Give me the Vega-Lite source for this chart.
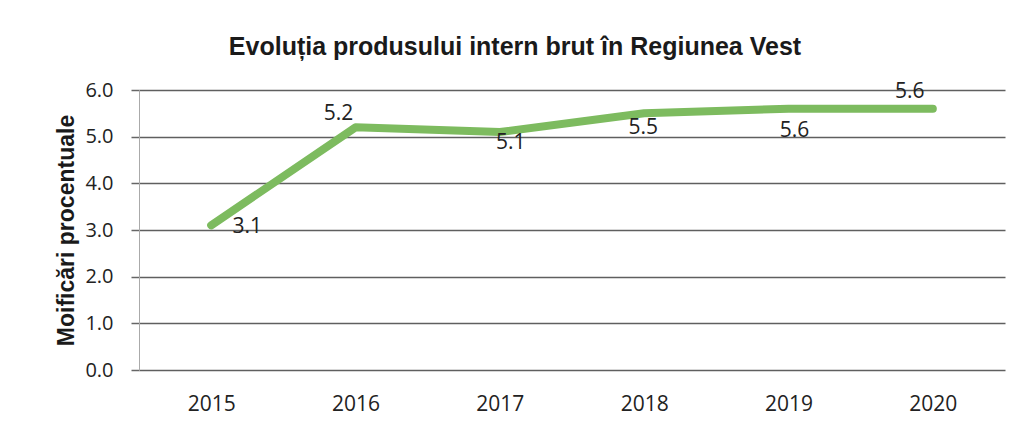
{
  "$schema": "https://vega.github.io/schema/vega-lite/v6.json",
  "width": 866,
  "height": 280,
  "autosize": {"type": "none"},
  "padding": {"left": 139, "top": 90, "right": 15, "bottom": 57},
  "background": "white",
  "title": {
    "text": "Evoluția produsului intern brut în Regiunea Vest",
    "font": "Liberation Sans",
    "fontSize": 25,
    "fontWeight": "bold",
    "color": "#1a1a1a",
    "anchor": "middle",
    "dx": -57,
    "offset": 20
  },
  "config": {
    "view": {"stroke": null},
    "axis": {"labelFont": "Open Sans", "labelColor": "#222"}
  },
  "data": {
    "values": [
      {"an": "2015", "valoare": 3.1},
      {"an": "2016", "valoare": 5.2},
      {"an": "2017", "valoare": 5.1},
      {"an": "2018", "valoare": 5.5},
      {"an": "2019", "valoare": 5.6},
      {"an": "2020", "valoare": 5.6}
    ]
  },
  "encoding": {
    "x": {
      "field": "an",
      "type": "ordinal",
      "scale": {"type": "point", "padding": 0.5},
      "axis": {
        "title": null,
        "labelAngle": 0,
        "labelFontSize": 21,
        "ticks": false,
        "domain": false,
        "labelPadding": 23,
        "grid": false
      }
    },
    "y": {
      "field": "valoare",
      "type": "quantitative",
      "scale": {"domain": [0, 6], "nice": false},
      "axis": {
        "title": "Moificări procentuale",
        "titleFont": "Liberation Sans",
        "titleFontSize": 23,
        "titleFontWeight": "bold",
        "titleColor": "#1a1a1a",
        "titlePadding": 6,
        "labelFontSize": 20,
        "values": [0, 1, 2, 3, 4, 5, 6],
        "format": ".1f",
        "grid": true,
        "gridColor": "#5f5f5f",
        "gridWidth": 1.5,
        "tickColor": "#666",
        "tickSize": 8,
        "tickWidth": 1.5,
        "domainColor": "#aaa",
        "labelPadding": 18
      }
    }
  },
  "layer": [
    {
      "mark": {"type": "line", "color": "#7dbb5f", "strokeWidth": 8, "strokeCap": "round", "strokeJoin": "round"}
    },
    {
      "transform": [{"filter": "datum.an == '2015'"}],
      "mark": {"type": "text", "font": "Open Sans", "fontSize": 21, "color": "#222", "dx": 36, "dy": 2},
      "encoding": {"text": {"field": "valoare", "format": ".1f"}}
    },
    {
      "transform": [{"filter": "datum.an == '2016'"}],
      "mark": {"type": "text", "font": "Open Sans", "fontSize": 21, "color": "#222", "dx": -17, "dy": -13},
      "encoding": {"text": {"field": "valoare", "format": ".1f"}}
    },
    {
      "transform": [{"filter": "datum.an == '2017'"}],
      "mark": {"type": "text", "font": "Open Sans", "fontSize": 21, "color": "#222", "dx": 11, "dy": 11},
      "encoding": {"text": {"field": "valoare", "format": ".1f"}}
    },
    {
      "transform": [{"filter": "datum.an == '2018'"}],
      "mark": {"type": "text", "font": "Open Sans", "fontSize": 21, "color": "#222", "dx": -1, "dy": 15},
      "encoding": {"text": {"field": "valoare", "format": ".1f"}}
    },
    {
      "transform": [{"filter": "datum.an == '2019'"}],
      "mark": {"type": "text", "font": "Open Sans", "fontSize": 21, "color": "#222", "dx": 6, "dy": 22},
      "encoding": {"text": {"field": "valoare", "format": ".1f"}}
    },
    {
      "transform": [{"filter": "datum.an == '2020'"}],
      "mark": {"type": "text", "font": "Open Sans", "fontSize": 21, "color": "#222", "dx": -23, "dy": -17},
      "encoding": {"text": {"field": "valoare", "format": ".1f"}}
    }
  ]
}
